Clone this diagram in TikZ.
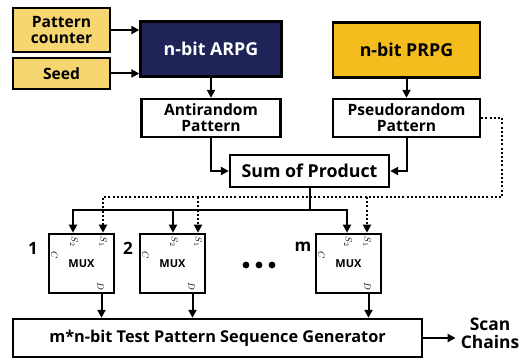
\documentclass[tikz,border=0pt]{standalone}
\usepackage{fontspec}
\setmainfont{Open Sans}
\usetikzlibrary{arrows.meta,calc}

\definecolor{seedyellow}{RGB}{246,214,112}
\definecolor{arpgnavy}{RGB}{31,36,88}
\definecolor{prpggold}{RGB}{245,188,30}

\tikzset{every picture/.style={line width=2pt}}
\tikzset{
  blk/.style={draw, line width=2.4pt, inner sep=0pt, align=center,
    font=\bfseries\fontsize{15.6}{16}\selectfont},
  bigtxt/.style={font=\bfseries\fontsize{17.8}{17}\selectfont},
  muxbox/.style={draw, line width=2.6pt, minimum width=65, minimum height=59,
    inner sep=0pt, font=\bfseries\fontsize{11}{11}\selectfont},
  pinlbl/.style={rotate=-90, inner sep=0pt, font=\fontsize{9.5}{9}\selectfont},
  arr/.style={-{Triangle[length=8pt,width=8pt]}},
  dotline/.style={dash pattern=on 2pt off 2.2pt},
  numlbl/.style={inner sep=0pt, font=\bfseries\fontsize{17}{17}\selectfont}
}

\begin{document}
\begin{tikzpicture}[x=1pt,y=1pt,yscale=-1,xscale=1]
\useasboundingbox (0,0) rectangle (526,358);

%Inputs of the ARPG
\node[blk, fill=seedyellow, minimum width=97, minimum height=44] (pc) at (61.5,30) {Pattern\\counter};
\node[blk, fill=seedyellow, minimum width=97, minimum height=31] (seed) at (61.5,73.5) {Seed};

%Generators
\node[blk, bigtxt, fill=arpgnavy, text=white, minimum width=141, minimum height=55] (arpg) at (211,49) {n-bit ARPG};
\node[blk, bigtxt, fill=prpggold, minimum width=147, minimum height=55] (prpg) at (406.5,50) {n-bit PRPG};

%Patterns
\node[blk, minimum width=139, minimum height=38] (anti) at (211,118) {Antirandom\\Pattern};
\node[blk, minimum width=147, minimum height=38] (pseudo) at (406.5,118) {Pseudorandom\\Pattern};
\node[blk, bigtxt, minimum width=159, minimum height=32] (sop) at (309.5,171) {Sum of Product};

%Multiplexers
\node[muxbox] (mux1) at (81.5,263.5) {MUX};
\node[muxbox] (mux2) at (172.5,263.5) {MUX};
\node[muxbox] (muxm) at (348.5,263.5) {MUX};
\node[numlbl] (n1) at (33,248) {1};
\node[numlbl] (n2) at (128,248) {2};
\node[numlbl] (nm) at (303,247) {m};
\coordinate (dots) at (246,265);
\foreach \i in {0,1,2}
  \fill ($(dots)+(\i*13,0)$) circle (3.4);

%Output stage
\node[blk, font=\bfseries\fontsize{16.3}{14}\selectfont, minimum width=409, minimum height=38] (gen) at (217.5,338) {m*n-bit Test Pattern Sequence Generator};
\node[blk, font=\bfseries\fontsize{17.4}{18}\selectfont, draw=none, inner sep=4pt] (scan) at (490,333) {Scan\\Chains};

%Straight Lines
\draw[arr] (pc.east) -- (pc.east -| arpg.west);
\draw[arr] (seed.east) -- (seed.east -| arpg.west);
\draw[arr] (arpg.south) -- (anti.north);
\draw[arr] (prpg.south) -- (pseudo.north);
\draw[arr] (anti.south) |- (sop.west);
\draw[arr] (pseudo.south) |- (sop.east);
\draw[arr] (gen.east) -- (gen.east -| scan.west);

%Select inputs and outputs of each MUX
\foreach \m/\a/\b in {mux1/-8.5/21.5, mux2/0.5/25.5, muxm/-1.5/18.5}{
  \coordinate (\m s2) at ($(\m.north)+(\a,0)$);
  \coordinate (\m s1) at ($(\m.north)+(\b,0)$);
  \coordinate (\m out) at ($(\m.south)+(20,0)$);
  \node[pinlbl] at ($(\m s2)+(1,9)$) {$S_2$};
  \node[pinlbl] at ($(\m s1)+(0,9)$) {$S_1$};
  \node[pinlbl] at ($(\m.center)+(-27,-8)$) {$C$};
  \node[pinlbl] at ($(\m.center)+(19,23)$) {$D$};
  \draw[arr] (\m out) -- (\m out |- gen.north);
}

%Solid bus from the Sum of Product
\coordinate (bus) at ($(sop.south)+(0,22)$);
\draw (sop.south) -- (bus);
\draw[arr] (bus) -| (mux1s2);
\draw[arr] (bus) -| (muxms2);
\draw[arr] (bus -| mux2s2) -- (mux2s2);

%Dotted bus from the Pseudorandom Pattern
\coordinate (dbus) at (502,197);
\draw[dotline, arr] (pseudo.east) -- (pseudo.east -| dbus) -- (dbus) -| (mux1s1);
\draw[dotline, arr] (dbus -| mux2s1) -- (mux2s1);
\draw[dotline, arr] (dbus -| muxms1) -- (muxms1);

\end{tikzpicture}
\end{document}
